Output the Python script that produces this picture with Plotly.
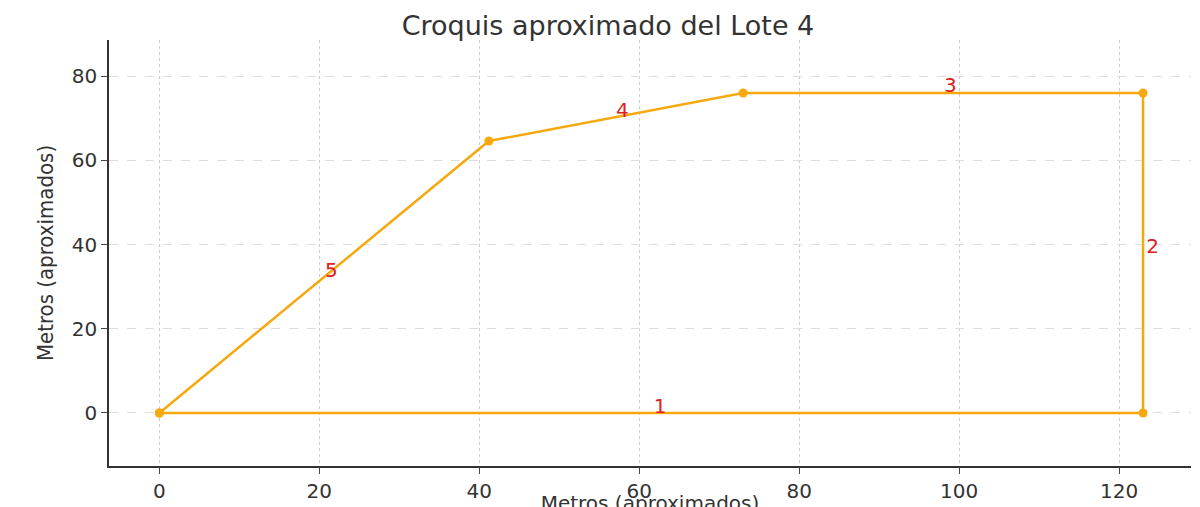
import plotly.graph_objects as go

xs = [0, 123, 123, 73, 41.2, 0]
ys = [0, 0, 76, 76, 64.6, 0]
lab_x = [62.6, 124.2, 98.9, 57.9, 21.5]
lab_y = [1.2, 39.2, 77.4, 71.5, 33.5]
labels = ["1", "2", "3", "4", "5"]

fig = go.Figure()
fig.add_trace(go.Scatter(x=xs, y=ys, mode="lines+markers",
    line=dict(color="#F5A90F", width=2.5), marker=dict(color="#F5A90F", size=9)))
fig.add_trace(go.Scatter(x=lab_x, y=lab_y, mode="text", text=labels,
    textfont=dict(color="#E0201B", size=20, family="DejaVu Sans")))
fig.update_layout(
    width=1200, height=507, showlegend=False, plot_bgcolor="white", paper_bgcolor="white",
    margin=dict(l=101, r=17, t=32, b=49),
    title=dict(text="Croquis aproximado del Lote 4", x=0.5, xanchor="center",
               y=0.965, yanchor="middle",
               font=dict(size=27, family="DejaVu Sans", color="#333")),
    font=dict(family="DejaVu Sans", color="#333", size=20),
)
fig.update_xaxes(range=[-6.3, 129], tickvals=[0,20,40,60,80,100,120], showline=True,
    linecolor="#333", linewidth=1.5, ticks="outside", ticklen=6, zeroline=False, automargin=False,
    showgrid=True, gridcolor="#cccccc", griddash="dot",
    title=dict(text="Metros (aproximados)", standoff=2, font=dict(size=20)))
fig.update_yaxes(range=[-12.6, 88.6], tickvals=[0,20,40,60,80], showline=True,
    linecolor="#333", linewidth=1.5, ticks="outside", ticklen=6, zeroline=False, automargin=False,
    showgrid=True, gridcolor="#dddddd", griddash="dash",
    title=dict(text="Metros (aproximados)", standoff=12,
               font=dict(size=22, family="Liberation Sans Narrow, DejaVu Sans Condensed")))
fig.write_html("out.html")
